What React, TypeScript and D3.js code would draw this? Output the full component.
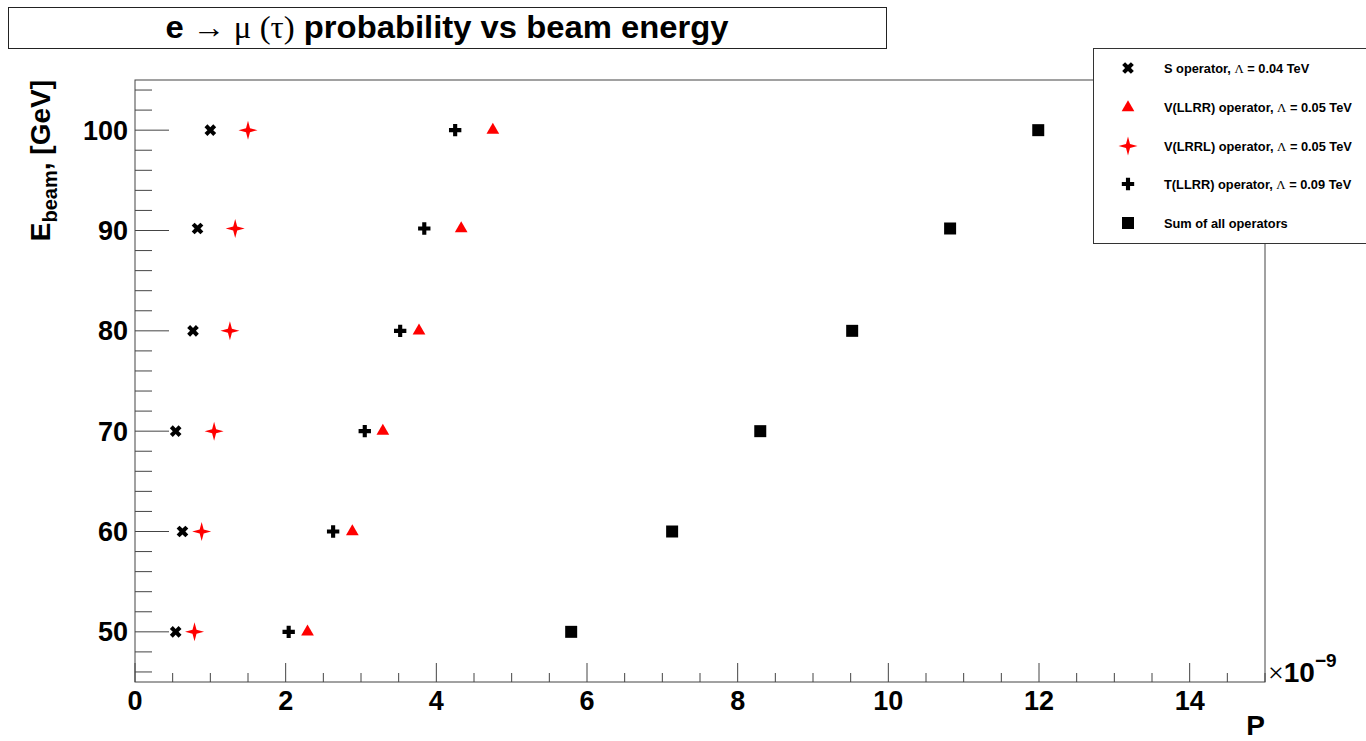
import React from 'react';
import * as d3 from 'd3';

// beam energies [GeV] and probabilities (x 1e-9)
const energies = [50, 60, 70, 80, 90.2, 100];
const sOperator = [0.54, 0.63, 0.54, 0.77, 0.83, 1.0];
const vLLRR = [2.29, 2.885, 3.29, 3.77, 4.33, 4.75];
const vLRRL = [0.79, 0.885, 1.05, 1.26, 1.33, 1.5];
const tLLRR = [2.04, 2.63, 3.05, 3.52, 3.84, 4.25];
const sumAll = [5.79, 7.13, 8.3, 9.52, 10.82, 11.99];

const xTicks = [0, 2, 4, 6, 8, 10, 12, 14];
const yTicks = [50, 60, 70, 80, 90, 100];

const legendLabels = [
  ['S operator,  ', '0.04'],
  ['V(LLRR) operator,  ', '0.05'],
  ['V(LRRL) operator,  ', '0.05'],
  ['T(LLRR) operator,  ', '0.09'],
];

const W = 1366;
const H = 741;
const FRAME = { left: 135, right: 1265, top: 80, bottom: 682 };
const FONT = '"Liberation Sans", Arial, Helvetica, sans-serif';
const SYM = '"Liberation Serif", "DejaVu Serif", serif';

const xScale = d3.scaleLinear().domain([0, 15]).range([FRAME.left, FRAME.right]);
const yScale = d3.scaleLinear().domain([45, 105]).range([FRAME.bottom, FRAME.top]);

const crossPath = d3.symbol(d3.symbolCross, 85)()!;
const trianglePath = d3.symbol(d3.symbolTriangle, 70)()!;
const squarePath = d3.symbol(d3.symbolSquare, 144)()!;
const starPath = (() => {
  const r = 9.5, w = 2;
  const p = d3.path();
  p.moveTo(0, -r);
  p.lineTo(w, -w);
  p.lineTo(r, 0);
  p.lineTo(w, w);
  p.lineTo(0, r);
  p.lineTo(-w, w);
  p.lineTo(-r, 0);
  p.lineTo(-w, -w);
  p.closePath();
  return p.toString();
})();

type Marker = { d: string; fill: string; rotate?: number };
const markers: Record<string, Marker> = {
  s: { d: crossPath, fill: '#000', rotate: 45 },
  vllrr: { d: trianglePath, fill: '#ff0000' },
  vlrrl: { d: starPath, fill: '#ff0000' },
  t: { d: crossPath, fill: '#000' },
  sum: { d: squarePath, fill: '#000' },
};

const series = [
  { key: 's', values: sOperator },
  { key: 'vllrr', values: vLLRR },
  { key: 'vlrrl', values: vLRRL },
  { key: 't', values: tLLRR },
  { key: 'sum', values: sumAll },
];

const MarkerShape = ({ k, x, y }: { k: string; x: number; y: number }) => {
  const m = markers[k];
  return (
    <path
      d={m.d}
      fill={m.fill}
      transform={`translate(${x},${y})${m.rotate ? ` rotate(${m.rotate})` : ''}`}
    />
  );
};

export default function App() {
  const xMinor = d3.range(0, 15.01, 0.5);
  const yMinor = d3.range(46, 105, 2);
  const axisColor = '#444';

  return (
    <div style={{ position: 'absolute', left: 0, top: 0 }}>
      <svg width={W} height={H} style={{ display: 'block', background: '#fff' }} fontFamily={FONT}>
        {/* title box */}
        <rect x={8.5} y={7.5} width={878} height={41} fill="#fff" stroke="#222" />
        <text x={447} y={38} fontSize={31} fontWeight="bold" textAnchor="middle" textLength={563} lengthAdjust="spacingAndGlyphs">
          e <tspan fontFamily={SYM} fontWeight="normal">{'\u2192'} {'\u03bc'} (</tspan>
          <tspan fontFamily={SYM} fontWeight="normal">{'\u03c4'}</tspan>
          <tspan fontFamily={SYM} fontWeight="normal">)</tspan> probability vs beam energy
        </text>

        {/* frame */}
        <rect
          x={FRAME.left}
          y={FRAME.top}
          width={FRAME.right - FRAME.left}
          height={FRAME.bottom - FRAME.top}
          fill="none"
          stroke={axisColor}
        />

        {/* x ticks */}
        {xMinor.map((v) => {
          const major = Math.abs(v % 2) < 1e-9;
          return (
            <line
              key={`xm${v}`}
              x1={xScale(v)}
              x2={xScale(v)}
              y1={FRAME.bottom}
              y2={FRAME.bottom - (major ? 19 : 9)}
              stroke={axisColor}
            />
          );
        })}
        {xTicks.map((v) => (
          <text key={`xl${v}`} x={xScale(v)} y={710} fontSize={27} fontWeight="bold" textAnchor="middle">
            {v}
          </text>
        ))}

        {/* y ticks */}
        {yMinor.map((v) => {
          const major = v % 10 === 0;
          return (
            <line
              key={`ym${v}`}
              x1={FRAME.left}
              x2={FRAME.left + (major ? 34 : 17)}
              y1={yScale(v)}
              y2={yScale(v)}
              stroke={axisColor}
            />
          );
        })}
        {yTicks.map((v) => (
          <text key={`yl${v}`} x={128} y={yScale(v) + 9.5} fontSize={27} fontWeight="bold" textAnchor="end">
            {v}
          </text>
        ))}

        {/* axis titles */}
        <text x={1265} y={735} fontSize={28} fontWeight="bold" textAnchor="end">P</text>
        <text x={1268} y={682} fontSize={28} fontWeight="bold">
          <tspan fontFamily={SYM} fontWeight="normal">{'\u00d7'}</tspan>10
          <tspan fontSize={19} dy={-15}>{'\u22129'}</tspan>
        </text>
        <text transform="translate(50,80) rotate(-90)" fontSize={28} fontWeight="bold" textAnchor="end">
          E<tspan fontSize={20} dy={7}>beam</tspan>
          <tspan dy={-7}>, [GeV]</tspan>
        </text>

        {/* points */}
        {series.map((s) => (
          <g key={s.key}>
            {s.values.map((v, i) => (
              <MarkerShape key={i} k={s.key} x={xScale(v)} y={yScale(energies[i])} />
            ))}
          </g>
        ))}

        {/* legend */}
        <rect x={1093.5} y={48.5} width={290} height={195} fill="#fff" stroke="#333" />
        {series.map((s, i) => {
          const y = [68, 107.5, 146, 184, 223][i];
          return (
            <g key={`lg${s.key}`}>
              <MarkerShape k={s.key} x={1128} y={y} />
              {i < 4 ? (
                <text x={1164} y={y + 4.5} fontSize={12.8} fontWeight="bold">
                  {legendLabels[i][0]}
                  <tspan fontFamily={SYM} fontWeight="normal">{'\u039b'}</tspan>
                  {` = ${legendLabels[i][1]} TeV`}
                </text>
              ) : (
                <text x={1164} y={y + 4.5} fontSize={12.8} fontWeight="bold">
                  Sum of all operators
                </text>
              )}
            </g>
          );
        })}
      </svg>
    </div>
  );
}
